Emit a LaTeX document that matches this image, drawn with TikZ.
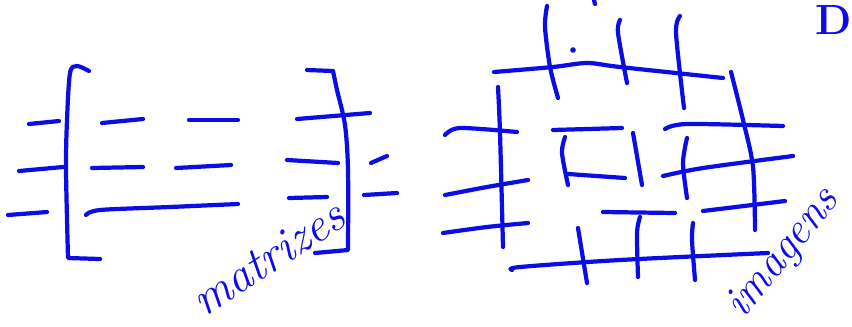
\documentclass[tikz,border=0pt]{standalone}
\usepackage{tikz}
\definecolor{inkblue}{RGB}{12,12,228}
\begin{document}
\begin{tikzpicture}[x=0.03cm,y=-0.03cm]
\tikzstyle{ink} = [draw=inkblue,line width=3.6pt,line cap=round,line join=round]
\tikzstyle{hand} = [text=inkblue,font=\fontsize{41}{41}\selectfont\itshape,inner sep=0pt]

\useasboundingbox (0,0) rectangle (852,326);

% matrix on the left
\draw[ink] plot[smooth] coordinates {(89,71) (77,66) (70,73) (67,120) (66,170) (68,258)} -- (100,259);
\draw[ink] (307,70) -- (333,71) plot[smooth] coordinates {(333,71) (337,90) (345,125) (348,170) (348,250)} -- (315,253);

% rows outside the brackets
\draw[ink] (29,124) -- (59,121);
\draw[ink] (19,171) -- (63,167);
\draw[ink] (8,215) -- (47,212);
\draw[ink] (371,163) -- (387,156);
\draw[ink] (364,195) -- (397,193);

% entries
\draw[ink] (102,123) -- (143,119);
\draw[ink] (189,120) -- (238,120);
\draw[ink] (297,119) -- (370,113);
\draw[ink] (92,168) -- (143,167);
\draw[ink] (176,168) -- (231,165);
\draw[ink] (287,160) -- (338,163);
\draw[ink] plot[smooth] coordinates {(86,215) (100,210) (170,207) (238,204)};
\draw[ink] (289,198) -- (327,197);

\node[hand, rotate=33] (matrizes) at (268,258) {matrizes};

% grid of images on the right
\draw[ink] plot[smooth] coordinates {(547,6) (545,27) (550,67) (558,98)};
\draw[ink] plot[smooth] coordinates {(620,20) (618,33) (627,83)};
\draw[ink] plot[smooth] coordinates {(680,16) (676,33) (684,108)};
\fill[inkblue] (573,50) circle (2.8);
\draw[ink] (594,0) -- (595,4);

\draw[ink] plot[smooth] coordinates {(494,72) (553,67) (587,63) (620,67) (723,78)};
\draw[ink] plot[smooth] coordinates {(731,72) (743,120) (753,167) (755,230)};
\draw[ink] plot[smooth] coordinates {(498,87) (500,133) (503,247)};

\draw[ink] plot[smooth] coordinates {(445,135) (460,128) (517,132)};
\draw[ink] plot[smooth] coordinates {(445,195) (487,187) (528,180)};
\draw[ink] plot[smooth] coordinates {(443,233) (487,227) (528,223)};

\draw[ink] (553,130) -- (622,128);
\draw[ink] plot[smooth] coordinates {(565,137) (562,153) (568,185)};
\draw[ink] (568,174) -- (625,178);
\draw[ink] (633,133) -- (642,185);

\draw[ink] plot[smooth] coordinates {(665,129) (687,124) (783,126)};
\draw[ink] plot[smooth] coordinates {(687,138) (683,163) (687,198)};
\draw[ink] plot[smooth] coordinates {(663,176) (703,168) (793,156)};
\draw[ink] (703,211) -- (785,201);

\draw[ink] (603,212) -- (675,213);
\draw[ink] plot[smooth] coordinates {(640,217) (637,233) (638,277)};
\draw[ink] (578,228) -- (587,283);
\draw[ink] plot[smooth] coordinates {(693,223) (692,240) (695,280)};
\draw[ink] plot[smooth] coordinates {(512,270) (520,267) (620,260) (768,253)};

\node[hand, rotate=51, font=\fontsize{38}{38}\selectfont\itshape] (imagens) at (784,254) {imagens};
\node[hand, font=\fontsize{36}{36}\selectfont\bfseries] (dlabel) at (834,20) {D};

\end{tikzpicture}
\end{document}
